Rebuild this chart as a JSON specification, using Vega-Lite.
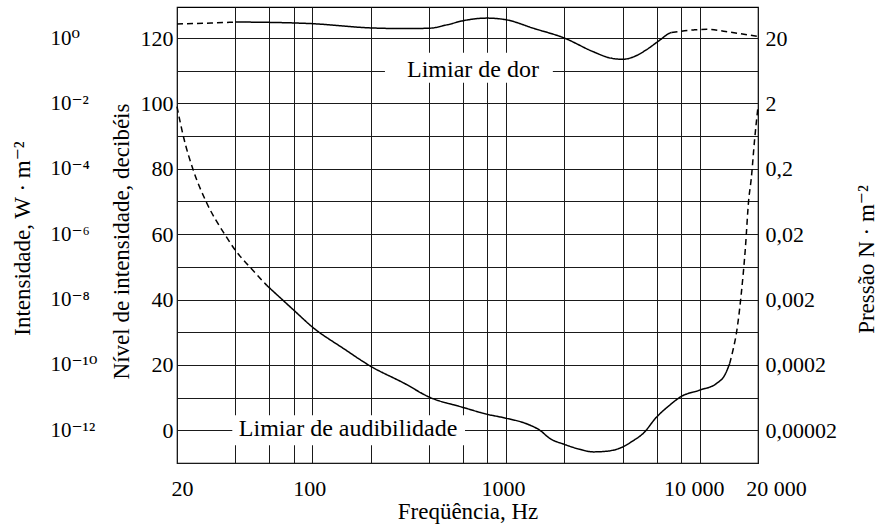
{
  "$schema": "https://vega.github.io/schema/vega-lite/v6.json",
  "width": 581,
  "height": 456,
  "autosize": {"type": "none"},
  "padding": {"left": 177, "top": 7, "right": 130, "bottom": 63},
  "background": "white",
  "config": {
    "font": "'Liberation Serif', 'DejaVu Serif', serif",
    "view": {"stroke": "black", "strokeWidth": 1.2},
    "axis": {
      "labelFont": "'Liberation Serif', 'DejaVu Serif', serif",
      "titleFont": "'Liberation Serif', 'DejaVu Serif', serif",
      "labelFontSize": 22,
      "titleFontSize": 23,
      "titleFontWeight": "normal",
      "labelColor": "black",
      "titleColor": "black",
      "gridColor": "#1a1a1a",
      "gridWidth": 1,
      "gridOpacity": 1,
      "ticks": false,
      "tickSize": 0,
      "domain": false,
      "labelOverlap": false,
      "labelFlush": false,
      "labelBound": false
    }
  },
  "datasets": {
    "curves": [
      {"curve": "audibilidade", "segment": "aud-1", "part": "extrapolado", "freq": 20, "db": 99},
      {"curve": "audibilidade", "segment": "aud-1", "part": "extrapolado", "freq": 21.6, "db": 89.8},
      {"curve": "audibilidade", "segment": "aud-1", "part": "extrapolado", "freq": 24.2, "db": 79.8},
      {"curve": "audibilidade", "segment": "aud-1", "part": "extrapolado", "freq": 28.3, "db": 69.9},
      {"curve": "audibilidade", "segment": "aud-1", "part": "extrapolado", "freq": 35.5, "db": 59.7},
      {"curve": "audibilidade", "segment": "aud-1", "part": "extrapolado", "freq": 40, "db": 55.1},
      {"curve": "audibilidade", "segment": "aud-1", "part": "extrapolado", "freq": 47.8, "db": 49.8},
      {"curve": "audibilidade", "segment": "aud-1", "part": "extrapolado", "freq": 58, "db": 44.4},
      {"curve": "audibilidade", "segment": "aud-2", "part": "medido", "freq": 58, "db": 44.4},
      {"curve": "audibilidade", "segment": "aud-2", "part": "medido", "freq": 80, "db": 36.8},
      {"curve": "audibilidade", "segment": "aud-2", "part": "medido", "freq": 100, "db": 31.6},
      {"curve": "audibilidade", "segment": "aud-2", "part": "medido", "freq": 145, "db": 25.0},
      {"curve": "audibilidade", "segment": "aud-2", "part": "medido", "freq": 200, "db": 19.6},
      {"curve": "audibilidade", "segment": "aud-2", "part": "medido", "freq": 300, "db": 14.3},
      {"curve": "audibilidade", "segment": "aud-2", "part": "medido", "freq": 400, "db": 10.2},
      {"curve": "audibilidade", "segment": "aud-2", "part": "medido", "freq": 600, "db": 7.0},
      {"curve": "audibilidade", "segment": "aud-2", "part": "medido", "freq": 800, "db": 4.9},
      {"curve": "audibilidade", "segment": "aud-2", "part": "medido", "freq": 1000, "db": 3.7},
      {"curve": "audibilidade", "segment": "aud-2", "part": "medido", "freq": 1276, "db": 2.0},
      {"curve": "audibilidade", "segment": "aud-2", "part": "medido", "freq": 1496, "db": 0},
      {"curve": "audibilidade", "segment": "aud-2", "part": "medido", "freq": 1684, "db": -2.5},
      {"curve": "audibilidade", "segment": "aud-2", "part": "medido", "freq": 2000, "db": -4.3},
      {"curve": "audibilidade", "segment": "aud-2", "part": "medido", "freq": 2400, "db": -5.8},
      {"curve": "audibilidade", "segment": "aud-2", "part": "medido", "freq": 2816, "db": -6.6},
      {"curve": "audibilidade", "segment": "aud-2", "part": "medido", "freq": 3300, "db": -6.4},
      {"curve": "audibilidade", "segment": "aud-2", "part": "medido", "freq": 4000, "db": -5.1},
      {"curve": "audibilidade", "segment": "aud-2", "part": "medido", "freq": 4500, "db": -3.3},
      {"curve": "audibilidade", "segment": "aud-2", "part": "medido", "freq": 5096, "db": -1.0},
      {"curve": "audibilidade", "segment": "aud-2", "part": "medido", "freq": 6000, "db": 4.1},
      {"curve": "audibilidade", "segment": "aud-2", "part": "medido", "freq": 7000, "db": 7.7},
      {"curve": "audibilidade", "segment": "aud-2", "part": "medido", "freq": 8000, "db": 10.3},
      {"curve": "audibilidade", "segment": "aud-2", "part": "medido", "freq": 10000, "db": 12.3},
      {"curve": "audibilidade", "segment": "aud-2", "part": "medido", "freq": 12190, "db": 14.3},
      {"curve": "audibilidade", "segment": "aud-2", "part": "medido", "freq": 13500, "db": 17.0},
      {"curve": "audibilidade", "segment": "aud-2", "part": "medido", "freq": 14280, "db": 20.4},
      {"curve": "audibilidade", "segment": "aud-3", "part": "extrapolado", "freq": 14280, "db": 20.4},
      {"curve": "audibilidade", "segment": "aud-3", "part": "extrapolado", "freq": 14850, "db": 24.5},
      {"curve": "audibilidade", "segment": "aud-3", "part": "extrapolado", "freq": 15500, "db": 30.0},
      {"curve": "audibilidade", "segment": "aud-3", "part": "extrapolado", "freq": 16400, "db": 41.9},
      {"curve": "audibilidade", "segment": "aud-3", "part": "extrapolado", "freq": 17180, "db": 55.1},
      {"curve": "audibilidade", "segment": "aud-3", "part": "extrapolado", "freq": 17900, "db": 70.4},
      {"curve": "audibilidade", "segment": "aud-3", "part": "extrapolado", "freq": 18460, "db": 77.0},
      {"curve": "audibilidade", "segment": "aud-3", "part": "extrapolado", "freq": 19200, "db": 88.8},
      {"curve": "audibilidade", "segment": "aud-3", "part": "extrapolado", "freq": 20000, "db": 99},
      {"curve": "dor", "segment": "dor-1", "part": "extrapolado", "freq": 20, "db": 124.3},
      {"curve": "dor", "segment": "dor-1", "part": "extrapolado", "freq": 30, "db": 124.6},
      {"curve": "dor", "segment": "dor-1", "part": "extrapolado", "freq": 40, "db": 124.9},
      {"curve": "dor", "segment": "dor-2", "part": "medido", "freq": 40, "db": 124.9},
      {"curve": "dor", "segment": "dor-2", "part": "medido", "freq": 60, "db": 124.8},
      {"curve": "dor", "segment": "dor-2", "part": "medido", "freq": 100, "db": 124.4},
      {"curve": "dor", "segment": "dor-2", "part": "medido", "freq": 200, "db": 123.1},
      {"curve": "dor", "segment": "dor-2", "part": "medido", "freq": 300, "db": 122.9},
      {"curve": "dor", "segment": "dor-2", "part": "medido", "freq": 400, "db": 123.0},
      {"curve": "dor", "segment": "dor-2", "part": "medido", "freq": 500, "db": 124.1},
      {"curve": "dor", "segment": "dor-2", "part": "medido", "freq": 600, "db": 125.3},
      {"curve": "dor", "segment": "dor-2", "part": "medido", "freq": 800, "db": 126.1},
      {"curve": "dor", "segment": "dor-2", "part": "medido", "freq": 1000, "db": 125.6},
      {"curve": "dor", "segment": "dor-2", "part": "medido", "freq": 1400, "db": 122.9},
      {"curve": "dor", "segment": "dor-2", "part": "medido", "freq": 2000, "db": 120.0},
      {"curve": "dor", "segment": "dor-2", "part": "medido", "freq": 2800, "db": 115.9},
      {"curve": "dor", "segment": "dor-2", "part": "medido", "freq": 3400, "db": 114.0},
      {"curve": "dor", "segment": "dor-2", "part": "medido", "freq": 4000, "db": 113.5},
      {"curve": "dor", "segment": "dor-2", "part": "medido", "freq": 4700, "db": 114.6},
      {"curve": "dor", "segment": "dor-2", "part": "medido", "freq": 5300, "db": 116.4},
      {"curve": "dor", "segment": "dor-2", "part": "medido", "freq": 6200, "db": 119.3},
      {"curve": "dor", "segment": "dor-2", "part": "medido", "freq": 7000, "db": 121.5},
      {"curve": "dor", "segment": "dor-2", "part": "medido", "freq": 7150, "db": 121.7},
      {"curve": "dor", "segment": "dor-3", "part": "extrapolado", "freq": 7150, "db": 121.7},
      {"curve": "dor", "segment": "dor-3", "part": "extrapolado", "freq": 9340, "db": 122.5},
      {"curve": "dor", "segment": "dor-3", "part": "extrapolado", "freq": 10900, "db": 122.7},
      {"curve": "dor", "segment": "dor-3", "part": "extrapolado", "freq": 13600, "db": 122.0},
      {"curve": "dor", "segment": "dor-3", "part": "extrapolado", "freq": 20000, "db": 120.5}
    ],
    "boxes": [
      {"label": "Limiar de dor", "freq": 237, "freq2": 1745, "db_lo": 106.3, "db_hi": 115.5},
      {"label": "Limiar de audibilidade", "freq": 38.6, "freq2": 614, "db_lo": -4.6, "db_hi": 4.6}
    ],
    "labels": [
      {"label": "Limiar de dor", "freq": 675, "db": 110.2},
      {"label": "Limiar de audibilidade", "freq": 153, "db": 0.4}
    ]
  },
  "encoding": {
    "x": {
      "field": "freq",
      "type": "quantitative",
      "scale": {"type": "log", "domain": [20, 20000], "nice": false, "zero": false},
      "axis": {
        "title": "Freqüência, Hz",
        "values": [20, 40, 60, 80, 100, 200, 400, 600, 800, 1000, 2000, 4000, 6000, 8000, 10000, 20000],
        "labelExpr": "datum.value == 20 ? '20' : datum.value == 100 ? '100' : datum.value == 1000 ? '1000' : datum.value == 10000 ? '10 000' : datum.value == 20000 ? '20 000' : ''",
        "labelOffset": {
          "condition": [
            {"test": "datum.value == 20", "value": 5},
            {"test": "datum.value == 20000", "value": 18},
            {"test": "datum.value == 10000", "value": -6}
          ],
          "value": -3
        },
        "labelPadding": 15,
        "titlePadding": 1,
        "grid": true
      }
    }
  },
  "layer": [
    {
      "data": {"name": "boxes"},
      "mark": {"type": "rect", "fill": "white", "strokeWidth": 0},
      "encoding": {
        "x2": {"field": "freq2"},
        "y": {
          "field": "db_lo",
          "type": "quantitative",
          "scale": {"domain": [-10, 129.5], "nice": false, "zero": false},
          "axis": {
            "orient": "left",
            "title": "Nível de intensidade, decibéis",
            "titleY": 234,
            "values": [-10, 0, 10, 20, 30, 40, 50, 60, 70, 80, 90, 100, 110, 120],
            "labelExpr": "datum.value >= 0 && datum.value % 20 == 0 ? datum.label : ''",
            "labelPadding": 4,
            "titlePadding": 7,
            "grid": true
          }
        },
        "y2": {"field": "db_hi"}
      }
    },
    {
      "data": {"name": "curves"},
      "mark": {"type": "line", "color": "black", "strokeWidth": 1.5, "interpolate": "monotone"},
      "encoding": {
        "y": {
          "field": "db",
          "type": "quantitative",
          "scale": {"domain": [-10, 129.5], "nice": false, "zero": false},
          "axis": {
            "orient": "right",
            "title": "Pressão N · m⁻²",
            "titleAngle": 270,
            "titleBaseline": "top",
            "titleY": 252,
            "values": [0, 20, 40, 60, 80, 100, 120],
            "labelExpr": "datum.value == 120 ? '20' : datum.value == 100 ? '2' : datum.value == 80 ? '0,2' : datum.value == 60 ? '0,02' : datum.value == 40 ? '0,002' : datum.value == 20 ? '0,0002' : datum.value == 0 ? '0,00002' : ''",
            "labelPadding": 7,
            "titlePadding": 19,
            "grid": false
          }
        },
        "detail": {"field": "segment"},
        "strokeDash": {
          "field": "part",
          "type": "nominal",
          "scale": {"domain": ["medido", "extrapolado"], "range": [[1, 0], [6, 4]]},
          "legend": null
        }
      }
    },
    {
      "data": {"name": "labels"},
      "mark": {"type": "text", "font": "'Liberation Serif', 'DejaVu Serif', serif", "fontSize": 24, "color": "black", "align": "center", "baseline": "middle"},
      "encoding": {
        "text": {"field": "label"},
        "y": {
          "field": "db",
          "type": "quantitative",
          "scale": {"domain": [-10, 129.5], "nice": false, "zero": false},
          "axis": {
            "orient": "left",
            "offset": 127,
            "title": "Intensidade, W · m⁻²",
            "titleY": 231,
            "values": [0, 20, 40, 60, 80, 100, 120],
            "labelExpr": "datum.value == 120 ? '10⁰' : datum.value == 100 ? '10⁻²' : datum.value == 80 ? '10⁻⁴' : datum.value == 60 ? '10⁻⁶' : datum.value == 40 ? '10⁻⁸' : datum.value == 20 ? '10⁻¹⁰' : datum.value == 0 ? '10⁻¹²' : ''",
            "labelAlign": "left",
            "labelFontSize": 21,
            "labelPadding": 0,
            "titlePadding": 16,
            "grid": false
          }
        }
      }
    }
  ],
  "resolve": {"scale": {"y": "shared"}, "axis": {"y": "independent"}}
}
